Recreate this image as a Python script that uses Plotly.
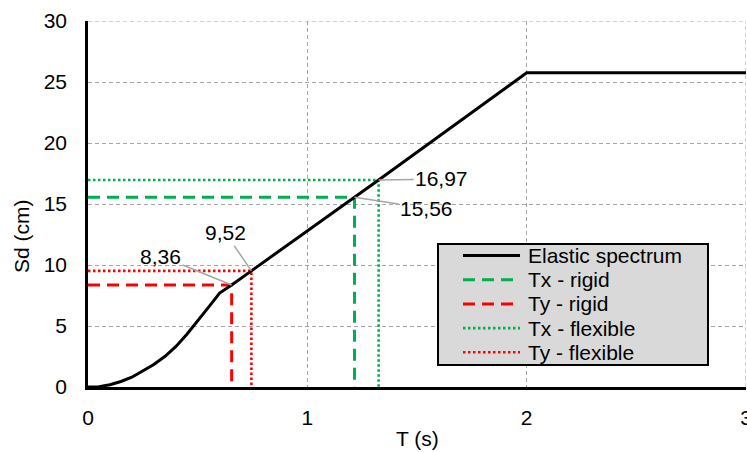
import plotly.graph_objects as go

# ---------------- data ----------------
spectrum_T = [0.0, 0.05, 0.10, 0.15, 0.20, 0.25, 0.30, 0.35, 0.40, 0.45, 0.50, 0.55, 0.60,
              0.655, 0.745, 1.215, 1.325, 2.0, 3.0]
spectrum_Sd = [0.0, 0.03, 0.18, 0.45, 0.80, 1.30, 1.85, 2.50, 3.30, 4.30, 5.40, 6.55, 7.70,
               8.36, 9.52, 15.56, 16.97, 25.75, 25.75]

period_names = ["Tx - rigid", "Ty - rigid", "Tx - flexible", "Ty - flexible"]
period_T = [1.215, 0.655, 1.325, 0.745]
period_Sd = [15.56, 8.36, 16.97, 9.52]
period_labels = ["15,56", "8,36", "16,97", "9,52"]
label_offsets = [(72, 11), (-71, -29), (63, -1), (-26, -38)]   # pixel offsets of the label from the point

x_ticks = [0, 1, 2, 3]
y_ticks = [0, 5, 10, 15, 20, 25, 30]

GREEN = "#00b050"
RED = "#ff0000"
period_colors = [GREEN, RED, GREEN, RED]
DASHED = "12px,7px"
DOTTED = "2.5px,2.5px"
period_dash = [DASHED, DASHED, DOTTED, DOTTED]
period_width = [3, 3, 2.6, 2.6]

FONT = "Liberation Sans, Arial, sans-serif"
FS = 21
W, H = 747, 452
ML, MR, MT, MB = 88, 1, 21, 65
PW, PH = W - ML - MR, H - MT - MB
GRID = "#a6a6a6"

fig = go.Figure()

for name, T, Sd, c, d, w in zip(period_names, period_T, period_Sd, period_colors, period_dash, period_width):
    fig.add_trace(go.Scatter(x=[0, T, T], y=[Sd, Sd, 0], mode="lines", name=name,
                             line=dict(color=c, dash=d, width=w), showlegend=False,
                             hoverinfo="skip"))

fig.add_trace(go.Scatter(x=spectrum_T, y=spectrum_Sd, mode="lines", name="Elastic spectrum",
                         line=dict(color="black", width=3), showlegend=False))

# value labels with leader lines
for T, Sd, lab, (ax, ay) in zip(period_T, period_Sd, period_labels, label_offsets):
    fig.add_annotation(x=T, y=Sd, text=lab, showarrow=True, arrowhead=0, arrowwidth=1.5,
                       arrowcolor=GRID, ax=ax, ay=ay, standoff=0,
                       font=dict(family=FONT, size=FS, color="black"))

# grid lines at the range ends (plotly drops gridlines on the plot edges)
fig.add_shape(type="line", xref="paper", yref="y", x0=0, x1=1, y0=y_ticks[-1], y1=y_ticks[-1],
              line=dict(color=GRID, width=1, dash="4px,3px"), layer="below")
fig.add_shape(type="line", xref="x", yref="paper", x0=x_ticks[-1], x1=x_ticks[-1], y0=0, y1=1,
              line=dict(color=GRID, width=1, dash="4px,3px"), layer="below")

# ---------------- custom legend (Excel-like box) ----------------
def px_x(p):
    return (p - ML) / PW

def px_y(p):
    return (MT + PH - p) / PH

leg_left, leg_right, leg_top, leg_bottom = 438, 708, 244, 365
fig.add_shape(type="rect", xref="paper", yref="paper",
              x0=px_x(leg_left), x1=px_x(leg_right), y0=px_y(leg_bottom), y1=px_y(leg_top),
              fillcolor="#d9d9d9", line=dict(color="black", width=2), layer="above")

leg_names = ["Elastic spectrum"] + period_names
leg_colors = ["black"] + period_colors
leg_dash = ["solid"] + period_dash
leg_width = [3] + period_width
row0, row_gap = 255.5, 24.2
for i, (n, c, d, w) in enumerate(zip(leg_names, leg_colors, leg_dash, leg_width)):
    yy = px_y(row0 + i * row_gap)
    fig.add_shape(type="line", xref="paper", yref="paper", x0=px_x(463), x1=px_x(520),
                  y0=yy, y1=yy, line=dict(color=c, dash=d, width=w), layer="above")
    fig.add_annotation(xref="paper", yref="paper", x=px_x(526), y=yy, text=n, showarrow=False,
                       xanchor="left", yanchor="middle",
                       font=dict(family=FONT, size=FS, color="black"))

# axis titles
fig.add_annotation(xref="paper", yref="paper", x=px_x(21), y=px_y(236), text="Sd (cm)",
                   textangle=-90, showarrow=False, xanchor="center", yanchor="middle",
                   font=dict(family=FONT, size=FS, color="black"))
fig.add_annotation(xref="paper", yref="paper", x=px_x(417), y=px_y(438), text="T (s)",
                   showarrow=False, xanchor="center", yanchor="middle",
                   font=dict(family=FONT, size=FS, color="black"))

fig.update_layout(
    width=W, height=H, margin=dict(l=ML, r=MR, t=MT, b=MB, pad=0, autoexpand=False),
    paper_bgcolor="white", plot_bgcolor="white",
    font=dict(family=FONT, size=FS, color="black"),
    showlegend=False,
)
fig.update_xaxes(range=[x_ticks[0], x_ticks[-1]], tickvals=x_ticks, ticktext=[str(v) for v in x_ticks],
                 showgrid=True, gridcolor=GRID, griddash="4px,3px", gridwidth=1,
                 showline=True, linecolor="black", linewidth=2.5, zeroline=False, ticks="",
                 ticklabeloverflow="allow", automargin=False,
                 ticklabelstandoff=10, tickfont=dict(family=FONT, size=FS, color="black"))
fig.update_yaxes(range=[y_ticks[0], y_ticks[-1]], tickvals=y_ticks, ticktext=[str(v) for v in y_ticks],
                 showgrid=True, gridcolor=GRID, griddash="4px,3px", gridwidth=1,
                 showline=True, linecolor="black", linewidth=2.5,
                 zeroline=False, ticks="", automargin=False,
                 ticklabelstandoff=14, tickfont=dict(family=FONT, size=FS, color="black"))

fig.write_html("out.html")
